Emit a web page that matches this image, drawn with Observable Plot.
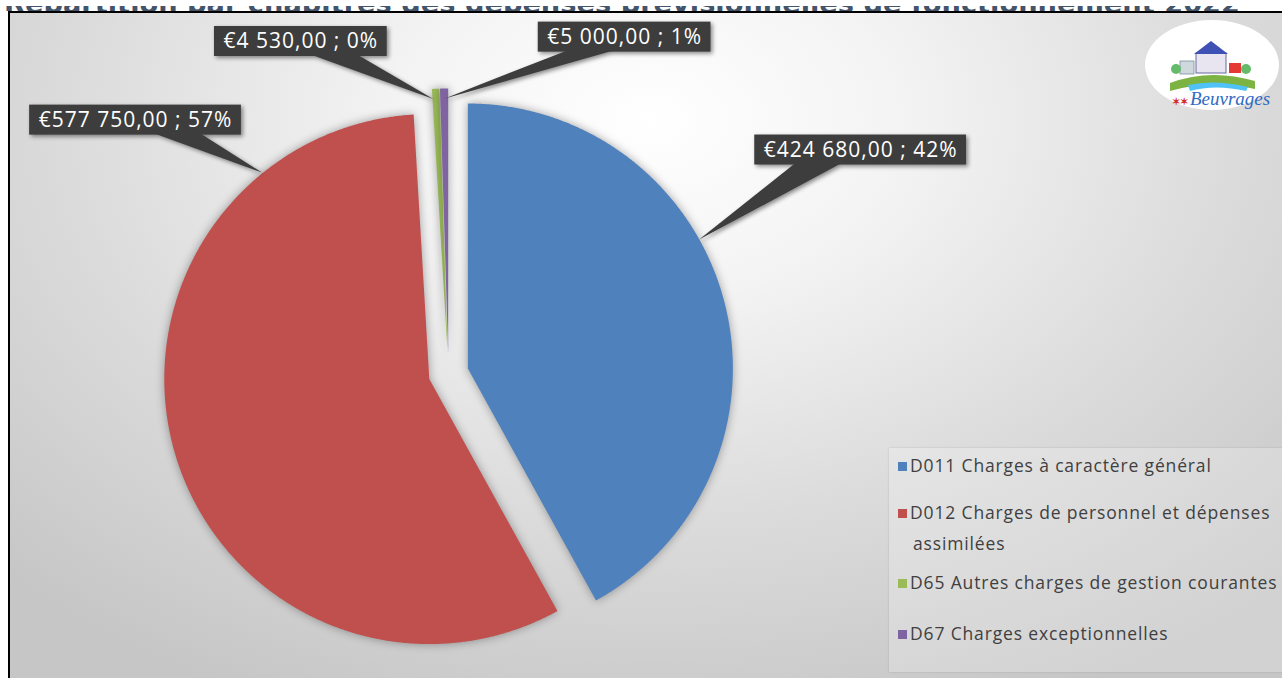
<!DOCTYPE html>
<html><head><meta charset="utf-8">
<script src="https://cdn.jsdelivr.net/npm/d3@7"></script>
<script src="https://cdn.jsdelivr.net/npm/@observablehq/plot@0.6"></script>
<style>
body{margin:0;background:#fff;width:1282px;height:678px;overflow:hidden;position:relative;font-family:"Open Sans",sans-serif}
#title{position:absolute;left:0;top:0;width:1282px;height:11px;overflow:hidden;z-index:1}
#frame{position:absolute;left:8px;top:11px;width:1280px;height:670px;border-left:2px solid #000;border-top:2px solid #000;z-index:2;
 background:radial-gradient(ellipse 72% 95% at 50% 16%, #ffffff 0%, #f3f3f3 28%, #dcdcdc 62%, #c6c6c6 100%);overflow:hidden}
#chart{position:absolute;left:0;top:0}
#chart g[aria-label="line"] path{filter:drop-shadow(0px 0px 5px rgba(0,0,0,0.35))}
#chart g[aria-label="text"] text{letter-spacing:1px}
.callout{filter:drop-shadow(2px 2px 2px rgba(0,0,0,0.45))}
#legend{position:absolute;left:879px;top:435px;width:410px;height:224px;background:rgba(255,255,255,0.22);box-shadow:0 0 2px rgba(0,0,0,0.15)}
.item{position:absolute;left:9px;font-size:17.5px;letter-spacing:0.85px;line-height:31px;color:#404040;white-space:nowrap}
.sw{display:inline-block;width:9px;height:9px;margin-right:3px;vertical-align:1px}
.item .t2{padding-left:15px}
#logo{position:absolute;left:0;top:0;pointer-events:none}
</style></head><body>
<div id="title"><svg width="1282" height="11"><text id="ttl" x="4" y="7" font-family="DejaVu Sans" font-weight="bold" font-size="26" fill="#44546a" textLength="1236" lengthAdjust="spacingAndGlyphs">Répartition par chapitres des dépenses prévisionnelles de fonctionnement 2022</text></svg></div>
<div id="frame"><div id="chart"></div><div id="legend"></div>
<svg id="logo" width="1272" height="665">
  <ellipse cx="1202" cy="52" rx="67" ry="45" fill="#ffffff"/>
  <path d="M1160 70 Q1200 55 1245 68 L1245 76 Q1200 66 1160 78 Z" fill="#7cb342"/>
  <path d="M1178 72 Q1205 66 1238 74 L1236 78 Q1205 71 1180 78 Z" fill="#4fc3f7"/>
  <rect x="1186" y="40" width="30" height="20" fill="#e8e4f0" stroke="#6a6aa0" stroke-width="1"/>
  <path d="M1184 41 L1201 28 L1218 41 Z" fill="#3f51b5"/>
  <rect x="1170" y="48" width="14" height="13" fill="#cfd8dc" stroke="#78909c" stroke-width="0.8"/>
  <rect x="1219" y="50" width="12" height="10" fill="#e53935"/>
  <circle cx="1166" cy="56" r="5" fill="#66bb6a"/><circle cx="1236" cy="56" r="5" fill="#66bb6a"/>
  <text x="1162" y="92" font-size="10" fill="#d32f2f" font-weight="bold">✶✶</text>
  <text x="1180" y="92" font-family="Liberation Serif" font-style="italic" font-size="19" fill="#2f6bc4">Beuvrages</text>
</svg>
</div>
<script>
// ---- data ----
const categories = [
  "D011 Charges à caractère général",
  "D012 Charges de personnel et dépenses assimilées",
  "D65 Autres charges de gestion courantes",
  "D67 Charges exceptionnelles"
];
const values = [424680, 577750, 4530, 5000];
const percentLabels = ["42%", "57%", "0%", "1%"];
const colors = ["#4f81bd", "#c0504d", "#9bbb59", "#8064a2"];

// ---- layout ----
const W = 1272, H = 665, R = 265, CX = 438, CY = 360, EXPLODE = 20;
const tipAngles = [61, 321, 356.9, 359.2];              // where each callout points on the arc (deg)
const tipRadius = [1, 1, 0.96, 0.96];                   // fraction of radius
const boxOffsets = [[161, -90], [-127, -53], [-133, -58], [180, -62]]; // px, tip -> box centre

const locale = d3.formatLocale({decimal: ",", thousands: "\u00a0", grouping: [3], currency: ["€", ""]});
const fmt = locale.format("$,.2f");

const arcs = d3.pie().sort(null).value(d => d)(values);
const rad = Math.PI / 180;
const slicePts = [];
const labels = [];
arcs.forEach((a, i) => {
  const mid = (a.startAngle + a.endAngle) / 2;
  const ox = EXPLODE / R * Math.sin(mid), oy = EXPLODE / R * Math.cos(mid);
  const n = Math.max(4, Math.ceil((a.endAngle - a.startAngle) / 0.005));
  slicePts.push({cat: categories[i], x: ox, y: oy});
  for (let k = 0; k <= n; k++) {
    const t = a.startAngle + (a.endAngle - a.startAngle) * k / n;
    slicePts.push({cat: categories[i], x: ox + Math.sin(t), y: oy + Math.cos(t)});
  }
  slicePts.push({cat: categories[i], x: ox, y: oy});
  const ta = tipAngles[i] * rad;
  const tx = ox + tipRadius[i] * Math.sin(ta), ty = oy + tipRadius[i] * Math.cos(ta);
  labels.push({
    i, tx, ty,
    x: tx + boxOffsets[i][0] / R,
    y: ty - boxOffsets[i][1] / R,
    text: fmt(values[i]).replace("\u00a0", " ") + " ; " + percentLabels[i]
  });
});

const chart = Plot.plot({
  width: W, height: H, margin: 0,
  style: {background: "transparent", overflow: "visible"},
  x: {domain: [-CX / R, (W - CX) / R], range: [0, W], axis: null},
  y: {domain: [-(H - CY) / R, CY / R], range: [H, 0], axis: null},
  marks: [
    ...categories.map((c, i) => Plot.line(slicePts.filter(d => d.cat === c), {
      x: "x", y: "y", fill: colors[i], stroke: "none", curve: "linear"
    })),
    Plot.text(labels, {
      x: "x", y: "y", text: "text", fill: "white", fontSize: 21,
      fontFamily: "Open Sans", textAnchor: "middle", lineAnchor: "middle"
    })
  ]
});
document.getElementById("chart").appendChild(chart);

// callout boxes behind the labels
const xs = chart.scale("x"), ys = chart.scale("y");
const svg = d3.select(chart);
const cg = svg.insert("g", 'g[aria-label="text"]').attr("class", "callout");
svg.selectAll('g[aria-label="text"] text').each(function(_, k) {
  const lab = labels[k];
  const w = this.getBBox().width + 18, h = 30;
  const cx = xs.apply(lab.x), cy = ys.apply(lab.y);
  const px = xs.apply(lab.tx), py = ys.apply(lab.ty);
  const bx = cx + Math.sign(px - cx) * 0.2 * w;
  const g = cg.append("g");
  g.append("path")
    .attr("d", `M${bx - 23},${cy + h / 2 - 1} L${bx + 23},${cy + h / 2 - 1} L${px},${py} Z`)
    .attr("fill", "#3d3d3d");
  g.append("rect").attr("x", cx - w / 2).attr("y", cy - h / 2).attr("width", w).attr("height", h)
    .attr("fill", "#3d3d3d");
});

// legend
const leg = document.getElementById("legend");
const itemTops = [1.5, 48.5, 118.5, 169.5];
categories.forEach((c, i) => {
  const d = document.createElement("div");
  d.className = "item";
  d.style.top = itemTops[i] + "px";
  if (i === 1) {
    d.innerHTML = `<span class="sw" style="background:${colors[i]}"></span>D012 Charges de personnel et dépenses<br><span class="t2">assimilées</span>`;
  } else {
    d.innerHTML = `<span class="sw" style="background:${colors[i]}"></span>${c}`;
  }
  leg.appendChild(d);
});
</script>
</body></html>
